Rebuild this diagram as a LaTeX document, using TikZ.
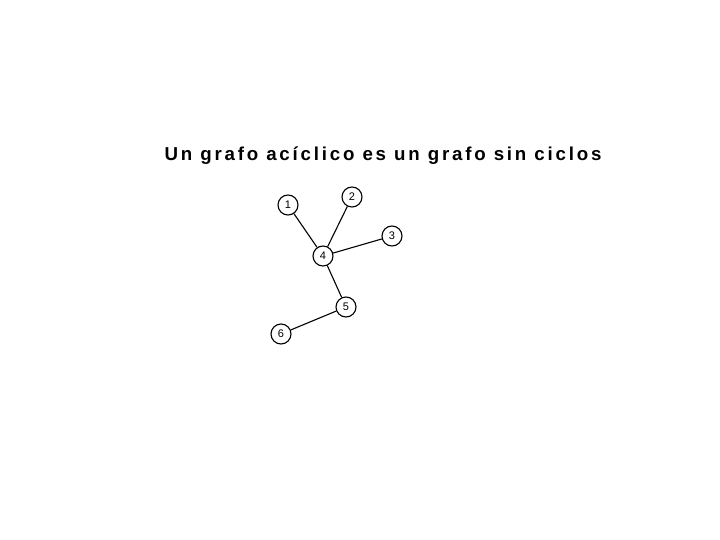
\documentclass[tikz,border=0pt]{standalone}
\usepackage{fontspec}
\setmainfont{Liberation Sans}
\newfontfamily\titlefont[LetterSpace=15]{Liberation Sans}
\usetikzlibrary{backgrounds}

\begin{document}
\begin{tikzpicture}[x=1pt,y=1pt,every node/.style={inner sep=1pt},
  vertex/.style={circle,draw,line width=1.1pt,minimum size=20pt,inner sep=0pt,font=\fontsize{11}{11}\selectfont},
  edge/.style={line width=1.1pt}]
  \useasboundingbox [fill=white] (0,0) rectangle ++(720,-540);

  \node [anchor=base] at (383,-160.7) (title) {\titlefont\bfseries\fontsize{18.7}{22}\selectfont Un grafo acíclico es un grafo sin ciclos};

  \node [vertex] at (288,-205) (v1) {1};
  \node [vertex] at (352,-197) (v2) {2};
  \node [vertex] at (392,-236) (v3) {3};
  \node [vertex] at (323,-256) (v4) {4};
  \node [vertex] at (346,-307) (v5) {5};
  \node [vertex] at (281,-334) (v6) {6};

  \draw [edge] (v1) -- (v4);
  \draw [edge] (v2) -- (v4);
  \draw [edge] (v3) -- (v4);
  \draw [edge] (v4) -- (v5);
  \draw [edge] (v5) -- (v6);

\end{tikzpicture}
\end{document}
